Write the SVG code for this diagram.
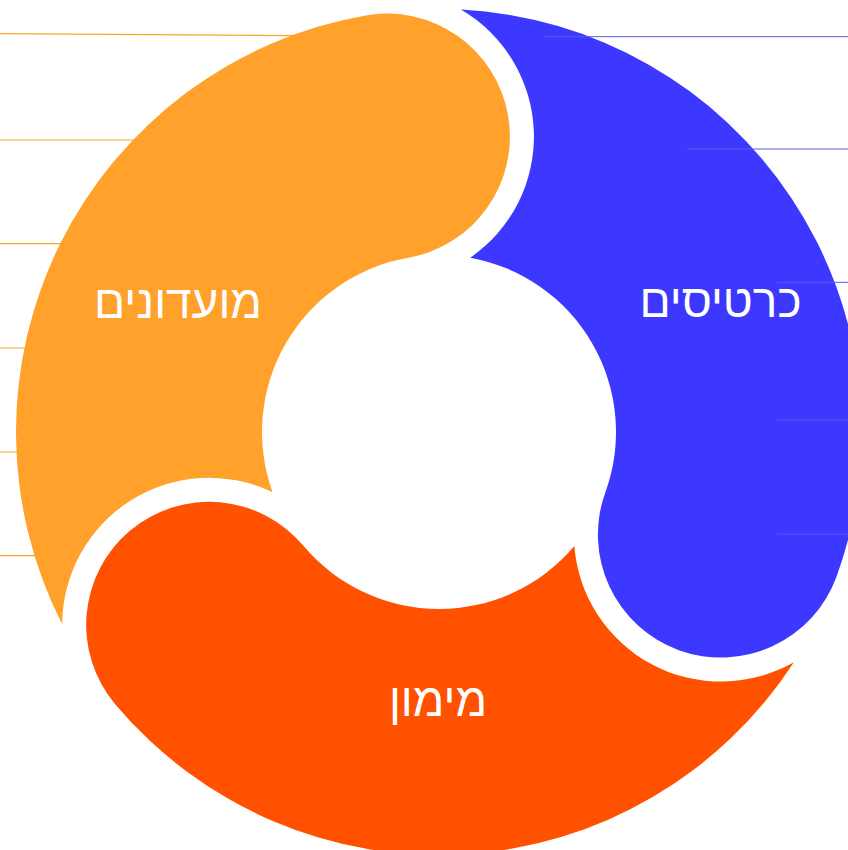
<svg xmlns="http://www.w3.org/2000/svg" width="848" height="850" viewBox="0 0 848 850">
  <defs>
    <style>
      .lbl { font-family: "Liberation Sans", "DejaVu Sans", sans-serif; font-size: 46px; fill: #ffffff; text-anchor: middle; }
      .oline { stroke: #FFA229; stroke-width: 1.2; fill: none; }
      .bline { stroke: #5a58e8; stroke-width: 1; fill: none; }
    </style>
    <path id="seg" d="M 62.20 624.25 A 423 423 0 0 1 365.55 15.43 A 123 123 0 0 1 508.04 115.20 A 123 123 0 0 1 408.26 257.69 A 177 177 0 0 0 272.54 492.16 A 147 147 0 0 0 62.20 624.25 Z"/>
  </defs>
  <rect width="848" height="850" fill="#ffffff"/>
  <g id="connectors-left">
    <line class="oline" x1="0" y1="33.7" x2="300" y2="35.6"/>
    <line class="oline" x1="0" y1="140" x2="200" y2="140"/>
    <line class="oline" x1="0" y1="243.7" x2="150" y2="243.7"/>
    <line class="oline" x1="0" y1="348" x2="100" y2="348"/>
    <line class="oline" x1="0" y1="452" x2="100" y2="452"/>
    <line class="oline" x1="0" y1="555.7" x2="60" y2="555.7"/>
  </g>
  <g id="node-orange">
    <use href="#seg" fill="#FFA12B"/>
    <text class="lbl" x="178" y="318">מועדונים</text>
  </g>
  <g id="node-blue">
    <use href="#seg" fill="#3D38FF" transform="rotate(120 439 432)"/>
  </g>
  <g id="node-red">
    <use href="#seg" fill="#FF5100" transform="rotate(240 439 432)"/>
    <text class="lbl" x="438" y="716">מימון</text>
  </g>
  <g id="connectors-right">
    <line class="bline" x1="544" y1="36.7" x2="848" y2="36.7"/>
    <line class="bline" x1="687" y1="149" x2="848" y2="149"/>
    <line class="bline" x1="777" y1="282.3" x2="848" y2="282.3"/>
    <line class="bline" x1="777" y1="420" x2="848" y2="420"/>
    <line class="bline" x1="777" y1="534" x2="848" y2="534"/>
  </g>
  <g id="label-blue">
    <text class="lbl" x="720.5" y="317">כרטיסים</text>
  </g>
</svg>
